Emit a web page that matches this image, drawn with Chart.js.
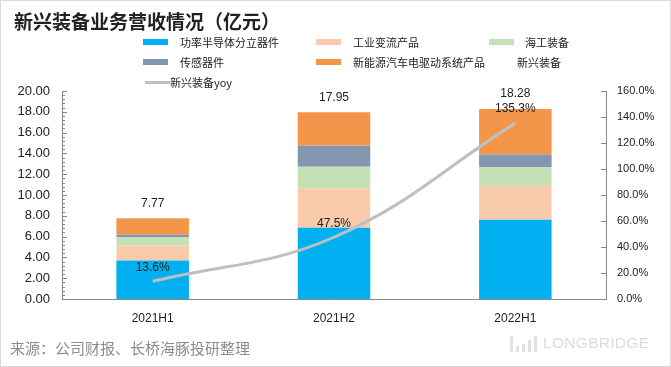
<!DOCTYPE html>
<html>
<head>
<meta charset="utf-8">
<script src="https://cdn.jsdelivr.net/npm/chart.js@4"></script>
<style>
  body { margin: 0; background: #fff; }
  #wrap { position: relative; width: 671px; height: 367px; overflow: hidden; font-family: "Noto Sans CJK SC", "Liberation Sans", sans-serif; }
  #frame { position: absolute; left: 0; top: 0; width: 669px; height: 365px; border: 1px solid #d9d9d9; pointer-events: none; }
  #title { position: absolute; left: 14px; top: 7px; font-size: 19px; font-weight: bold; color: #222; line-height: 28px; }
  .lg { position: absolute; font-size: 11px; color: #222; line-height: 14px; white-space: nowrap; }
  .sw { position: absolute; height: 6px; width: 25px; }
  #source { position: absolute; left: 10px; top: 338px; font-size: 15px; color: #8c8c8c; line-height: 20px; }
  #brand { position: absolute; left: 543px; top: 334px; font-family: "Liberation Sans", sans-serif; font-size: 15.5px; color: #dcdcdc; letter-spacing: 0.3px; }
  .ib { position: absolute; background: #e2e2e2; width: 3px; }
</style>
</head>
<body>
<div id="wrap">
  <canvas id="chart" width="671" height="367"></canvas>
  <div id="title">新兴装备业务营收情况（亿元）</div>
  <div id="legend"></div>
  <div id="source">来源：公司财报、长桥海豚投研整理</div>
  <div class="ib" style="left:510px;top:336px;height:16px"></div>
  <div class="ib" style="left:516px;top:346px;height:6px"></div>
  <div class="ib" style="left:522px;top:344px;height:8px"></div>
  <div class="ib" style="left:528px;top:340px;height:12px"></div>
  <div class="ib" style="left:534px;top:336px;height:16px"></div>
  <div id="brand">LONGBRIDGE</div>
  <div id="frame"></div>
</div>
<script>
// 数据
const periods = ['2021H1', '2021H2', '2022H1'];
const powerSemi = [3.70, 6.86, 7.62];    // 功率半导体分立器件
const converter = [1.45, 3.80, 3.28];    // 工业变流产品
const marine = [0.78, 2.05, 1.77];       // 海工装备
const sensor = [0.25, 2.02, 1.23];       // 传感器件
const evDrive = [1.59, 3.22, 4.38];      // 新能源汽车电驱动系统产品
const totals = [7.77, 17.95, 18.28];     // 新兴装备
const yoy = [13.6, 47.5, 135.3];         // 新兴装备yoy (%)

const barSeries = [
    { label: '功率半导体分立器件', data: powerSemi, color: '#00b0f0' },
    { label: '工业变流产品', data: converter, color: '#f8cbad' },
    { label: '海工装备', data: marine, color: '#c5e0b4' },
    { label: '传感器件', data: sensor, color: '#8497b0' },
    { label: '新能源汽车电驱动系统产品', data: evDrive, color: '#f4964a' }
];

// 图例 (html)
const legendPos = [
    { x: 143, y: 35, tx: 180 },
    { x: 316, y: 35, tx: 353 },
    { x: 489, y: 35, tx: 525 },
    { x: 143, y: 55, tx: 180 },
    { x: 316, y: 55, tx: 353 }
];
const legend = document.getElementById('legend');
barSeries.forEach((s, i) => {
    const p = legendPos[i];
    const sw = document.createElement('div');
    sw.className = 'sw';
    sw.style.left = p.x + 'px';
    sw.style.top = (p.y + 4) + 'px';
    sw.style.background = s.color;
    legend.appendChild(sw);
    const t = document.createElement('div');
    t.className = 'lg';
    t.style.left = p.tx + 'px';
    t.style.top = p.y + 'px';
    t.textContent = s.label;
    legend.appendChild(t);
});
legend.insertAdjacentHTML('beforeend',
    '<div class="lg" style="left:517px;top:55px">新兴装备</div>' +
    '<div class="sw" style="left:145px;top:81px;height:3px;width:25px;background:#bfbfbf"></div>' +
    '<div class="lg" style="left:170px;top:75px">新兴装备yoy</div>');

// petits traits sur les axes, vers l'intérieur
const innerTicks = {
    id: 'innerTicks',
    afterDraw(chart) {
        const c = chart.ctx;
        const y = chart.scales.y, y1 = chart.scales.y1;
        c.save();
        c.strokeStyle = '#888';
        c.lineWidth = 1;
        c.beginPath();
        for (let v = 0; v <= 20.001; v += 0.4) {
            const py = Math.round(y.getPixelForValue(v)) + 0.5;
            const major = Math.abs(v / 2 - Math.round(v / 2)) < 0.01;
            c.moveTo(y.right, py);
            c.lineTo(y.right + (major ? 5 : 3), py);
        }
        for (let v = 0; v <= 160; v += 20) {
            const py = Math.round(y1.getPixelForValue(v)) + 0.5;
            c.moveTo(y1.left, py);
            c.lineTo(y1.left - 5, py);
        }
        c.stroke();
        c.restore();
    }
};

// étiquettes : totaux au-dessus des barres, yoy au-dessus de la courbe
const valueLabels = {
    id: 'valueLabels',
    afterDatasetsDraw(chart) {
        const c = chart.ctx;
        c.save();
        c.font = '12px "Liberation Sans", sans-serif';
        c.fillStyle = '#222';
        c.textAlign = 'center';
        c.textBaseline = 'middle';
        const topMeta = chart.getDatasetMeta(barSeries.length - 1);
        topMeta.data.forEach((bar, i) => {
            c.fillText(totals[i].toFixed(2), bar.x, bar.y - 15);
        });
        const lineMeta = chart.getDatasetMeta(barSeries.length);
        lineMeta.data.forEach((pt, i) => {
            c.fillText(yoy[i].toFixed(1) + '%', pt.x, pt.y - 14);
        });
        c.restore();
    }
};

const datasets = barSeries.map(s => ({
    type: 'bar',
    label: s.label,
    data: s.data,
    backgroundColor: s.color,
    yAxisID: 'y',
    stack: 'rev',
    order: 1,
    categoryPercentage: 1,
    barPercentage: 0.4
}));
datasets.push({
    type: 'line',
    label: '新兴装备yoy',
    data: yoy,
    yAxisID: 'y1',
    borderColor: '#bfbfbf',
    borderWidth: 3,
    pointRadius: 0,
    tension: 0.4,
    fill: false,
    order: 0
});

new Chart(document.getElementById('chart'), {
    data: { labels: periods, datasets: datasets },
    options: {
        responsive: false,
        animation: false,
        layout: { padding: { top: 91, left: 0, right: 0, bottom: 0 } },
        plugins: {
            legend: { display: false },
            tooltip: { enabled: false }
        },
        scales: {
            x: {
                stacked: true,
                grid: { display: false, drawTicks: false },
                border: { color: '#888' },
                ticks: { color: '#222', padding: 12, font: { family: 'Liberation Sans', size: 12 } },
                afterFit: (s) => { s.height = 68; }
            },
            y: {
                stacked: true,
                position: 'left',
                min: 0,
                max: 20,
                grid: { display: false, drawTicks: false },
                border: { color: '#888' },
                ticks: {
                    stepSize: 2,
                    padding: 12,
                    color: '#222',
                    font: { family: 'Liberation Sans', size: 13 },
                    callback: (v) => v.toFixed(2)
                },
                afterFit: (s) => { s.width = 62; }
            },
            y1: {
                position: 'right',
                min: 0,
                max: 160,
                grid: { display: false, drawTicks: false },
                border: { color: '#888' },
                ticks: {
                    stepSize: 20,
                    padding: 11,
                    color: '#222',
                    font: { family: 'Liberation Sans', size: 11 },
                    callback: (v) => v.toFixed(1) + '%'
                },
                afterFit: (s) => { s.width = 65; }
            }
        }
    },
    plugins: [innerTicks, valueLabels]
});
</script>
</body>
</html>
